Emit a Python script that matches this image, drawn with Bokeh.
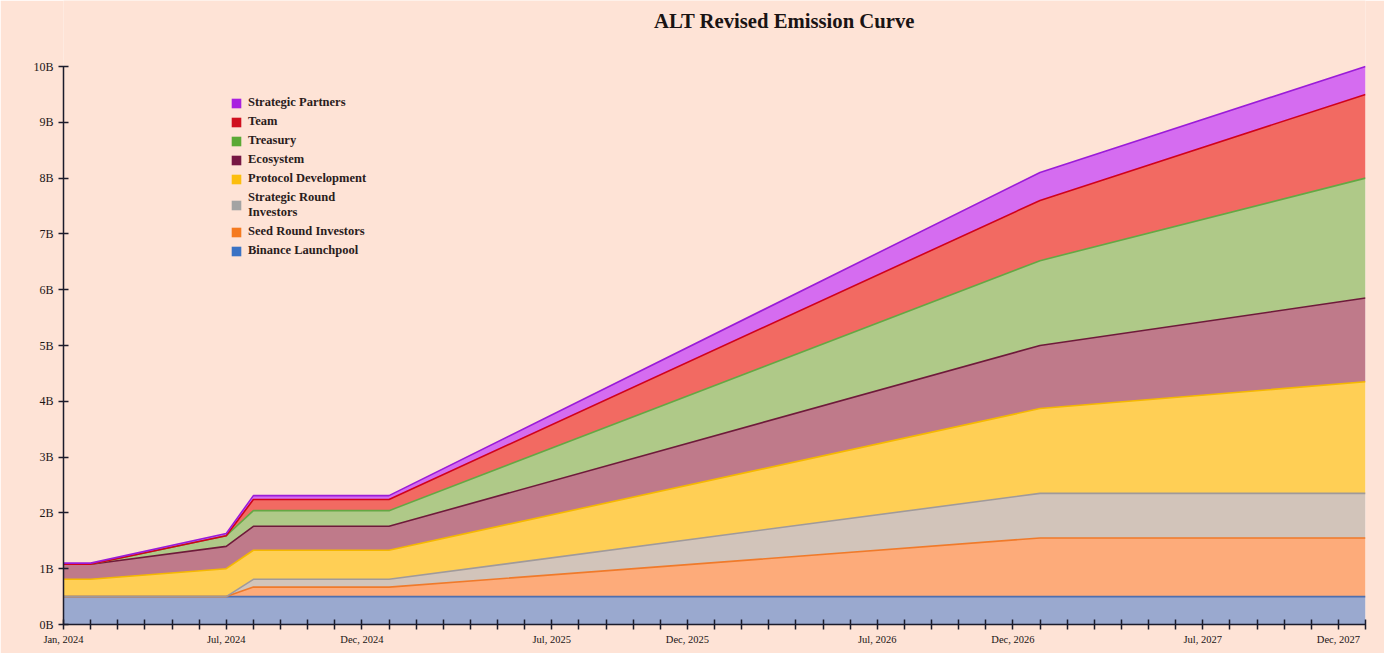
from bokeh.plotting import figure
from bokeh.models import (ColumnDataSource, Range1d, FixedTicker, PrintfTickFormatter, Legend,
                          LegendItem, Label)
from bokeh.transform import stack
from bokeh.embed import file_html
from bokeh.resources import INLINE

# ---- data (billions of ALT, per layer) ----
dates = ["2024-01", "2024-02", "2024-07", "2024-08", "2025-01", "2027-01", "2028-01"]
binance_launchpool = [0.50, 0.50, 0.50, 0.50, 0.50, 0.50, 0.50]
seed_round = [0.00, 0.00, 0.00, 0.17, 0.17, 1.05, 1.05]
strategic_round = [0.00, 0.00, 0.00, 0.14, 0.14, 0.80, 0.80]
protocol_dev = [0.31, 0.31, 0.50, 0.52, 0.52, 1.52, 2.00]
ecosystem = [0.27, 0.27, 0.40, 0.43, 0.43, 1.13, 1.50]
treasury = [0.00, 0.00, 0.19, 0.28, 0.28, 1.52, 2.15]
team = [0.00, 0.00, 0.00, 0.20, 0.20, 1.08, 1.50]
strategic_partners = [0.02, 0.02, 0.04, 0.07, 0.07, 0.50, 0.50]

tick_labels = {"2024-01": "Jan, 2024", "2024-07": "Jul, 2024", "2024-12": "Dec, 2024",
               "2025-07": "Jul, 2025", "2025-12": "Dec, 2025", "2026-07": "Jul, 2026",
               "2026-12": "Dec, 2026", "2027-07": "Jul, 2027", "2027-12": "Dec, 2027"}

names = ["Binance Launchpool", "Seed Round Investors", "Strategic Round Investors",
         "Protocol Development", "Ecosystem", "Treasury", "Team", "Strategic Partners"]
series = [binance_launchpool, seed_round, strategic_round, protocol_dev, ecosystem,
          treasury, team, strategic_partners]
fills = ["#9aa9cf", "#fdab7a", "#d2c4ba", "#ffcf55", "#bf7a8a", "#afc988", "#f26a62", "#d56cf0"]
strong = ["#3a72c4", "#f57a1f", "#a3a3a3", "#fcbe0e", "#761743", "#5aa935", "#d0101e", "#a820e0"]
edge = ["#4f6fae", "#f07a2a", "#a09a9a", "#f5b800", "#6e1a3a", "#64a844", "#d0021b", "#9a1cd8"]
legend_names = {"Strategic Round Investors": "Strategic Round\nInvestors"}
title_text = "ALT Revised Emission Curve"


def month_index(s):
    y, m = s.split("-")
    return (int(y) - 2024) * 12 + int(m) - 1


keys = ["s%d" % i for i in range(len(names))]
data = {"x": [month_index(d) for d in dates]}
for k, s in zip(keys, series):
    data[k] = s
src = ColumnDataSource(data)

BG = "#fee3d6"
FONT = "Liberation Serif"
W, H = 1384, 653

# the frame extends above the 10B axis top so the title can sit inside it
p = figure(width=W, height=H, output_backend="svg", toolbar_location=None,
           x_range=Range1d(0, 48), y_range=Range1d(0, 10 + 66 / 55.8),
           min_border_left=63, min_border_right=19, min_border_top=0, min_border_bottom=29)
p.background_fill_color = BG
p.border_fill_color = BG
p.outline_line_color = None
p.xgrid.visible = False
p.ygrid.visible = False

p.add_layout(Label(x=26.58, y=10 + 46 / 55.8, text=title_text,
                   text_align="center", text_baseline="middle", text_font=FONT,
                   text_font_size="20.7px", text_font_style="bold", text_color="#1a1414"))

p.varea_stack(stackers=keys, x="x", color=fills, source=src)
for i in range(len(keys)):
    p.line(x="x", y=stack(*keys[:i + 1]), source=src, line_color=edge[i], line_width=1.6)

# legend proxies (single off-range point, only used for the legend swatch)
nan = float("nan")
items = []
for i in reversed(range(len(names))):
    r = p.quad(left=[nan], right=[nan], top=[nan], bottom=[nan],
               fill_color=strong[i], line_color=None)
    items.append(LegendItem(label=legend_names.get(names[i], names[i]), renderers=[r]))
legend = Legend(items=items, location=(167, 366), padding=0, margin=0,
                border_line_color=None, background_fill_alpha=0,
                glyph_width=12, glyph_height=12, label_height=12, spacing=4,
                label_standoff=6, label_text_font=FONT, label_text_font_size="12.5px",
                label_text_font_style="bold", label_text_color="#2a1c1c",
                label_text_line_height=0.75)
p.add_layout(legend)

AX = "#1b1b2b"
for ax in (p.xaxis[0], p.yaxis[0]):
    ax.axis_line_color = AX
    ax.axis_line_width = 1.5
    ax.major_tick_line_color = AX
    ax.major_tick_line_width = 1.5
    ax.major_tick_in = 5
    ax.major_tick_out = 5
    ax.minor_tick_line_color = None
    ax.major_label_text_font = FONT
    ax.major_label_text_color = "#1a1414"

p.yaxis.bounds = (0, 10)
p.yaxis.ticker = FixedTicker(ticks=list(range(0, 11)))
p.yaxis.formatter = PrintfTickFormatter(format="%dB")
p.yaxis.major_label_text_font_size = "12px"
p.yaxis.major_label_standoff = 5

p.xaxis.ticker = FixedTicker(ticks=list(range(0, 49)))
overrides = {i: "" for i in range(0, 49)}
for d, lab in tick_labels.items():
    overrides[month_index(d)] = lab
p.xaxis.major_label_overrides = overrides
p.xaxis.major_label_text_font_size = "10.5px"
p.xaxis.major_label_standoff = 4

open("out.html", "w").write(file_html(p, INLINE))
